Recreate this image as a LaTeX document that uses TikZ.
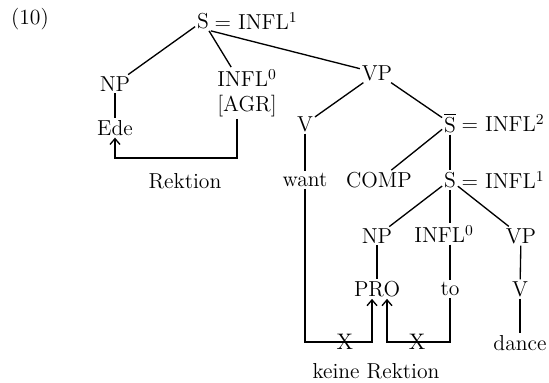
\documentclass[tikz,border=0pt]{standalone}
\usepackage{tikz}
\usetikzlibrary{arrows.meta,positioning}
\tikzset{cat/.style={inner sep=1pt,font=\fontsize{13}{15}\selectfont},
branch/.style={line width=0.8pt},
govern/.style={-{Straight Barb[length=3.5pt,width=6pt,line width=0.8pt]},line width=0.8pt},
starmark/.style={inner sep=0pt,font=\fontsize{13.5}{15}\selectfont}}

\begin{document}
\begin{tikzpicture}[x=0.6pt,y=-0.6pt]
\useasboundingbox (0,0) rectangle (549,382);
% upper clause
\node[cat] (ex) at (30,19) {(10)};
\node[cat] (s1) at (203,21) {S};
\node[cat,right=1pt of s1] (s1eq) {= INFL\textsuperscript{1}};
\node[cat] (np1) at (115,84) {NP};
\node[cat,align=center] (infl1) at (247,93) {INFL\textsuperscript{0}\\{}{[AGR]}};
\node[cat] (ede) at (115,128) {Ede};
\node[cat] (rk) at (185,181) {Rektion};
\node[cat] (vp1) at (377,73) {VP};
\node[cat] (v1) at (305,124) {V};
\node[cat] (want) at (305,180) {want};
\node[cat] (sbar) at (450,123) {$\overline{\mbox{S}}$};
\node[cat,right=1pt of sbar] (sbareq) {= INFL\textsuperscript{2}};
\node[cat] (comp) at (379,180) {COMP};
% embedded clause
\node[cat] (s2) at (450,180) {S};
\node[cat,right=1pt of s2] (s2eq) {= INFL\textsuperscript{1}};
\node[cat] (np2) at (377,236) {NP};
\node[cat] (infl2) at (444,234) {INFL\textsuperscript{0}};
\node[cat] (vp2) at (521,236) {VP};
\node[cat] (pro) at (377,289) {PRO};
\node[cat] (to) at (450,289) {to};
\node[cat] (v2) at (520,289) {V};
\node[cat] (dance) at (520,343) {dance};
\node[cat] (kr) at (376,371) {keine Rektion};
\coordinate (rkc) at (185,158);

\draw[branch] (s1) -- (np1);
\draw[branch] (s1) -- (infl1);
\draw[branch] (s1.south east) -- (vp1);
\draw[branch] (np1) -- (ede);
\draw[branch] (vp1) -- (v1);
\draw[branch] (vp1) -- (sbar);
\draw[branch] (v1) -- (want);
\draw[branch] (sbar) -- (comp);
\draw[branch] (sbar) -- (s2);
\draw[branch] (s2) -- (np2);
\draw[branch] (s2.south) -- (s2.south |- infl2.north);
\draw[branch] (s2) -- (vp2);
\draw[branch] (np2) -- (pro);
\draw[branch] (infl2.south -| to.north) -- (to.north);
\draw[branch] (vp2) -- (v2);
\draw[branch] (v2) -- (dance);

% government arrows
\draw[govern] ([xshift=-6pt]infl1.south) |- (rkc) -| (ede.south);
\coordinate (x1) at (345,342);
\coordinate (x2) at (417,342);
\draw[govern] (want.south) |- (x1) -| ([xshift=-3pt]pro.south);
\draw[govern] (to.south) |- (x2) -| ([xshift=6pt]pro.south);
\node[starmark] at (x1) {X};
\node[starmark] at (x2) {X};
\end{tikzpicture}
\end{document}
